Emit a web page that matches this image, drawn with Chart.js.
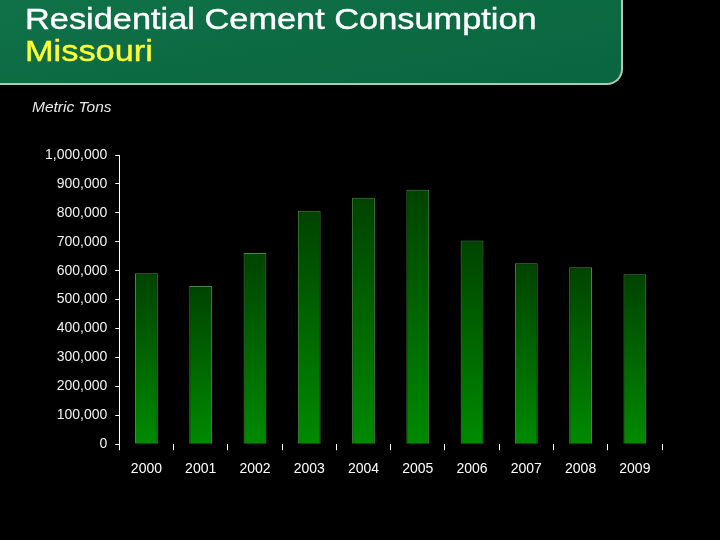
<!DOCTYPE html>
<html>
<head>
<meta charset="utf-8">
<script src="https://cdn.jsdelivr.net/npm/chart.js@4/dist/chart.umd.min.js"></script>
<style>
  html, body { margin: 0; padding: 0; background: #000; }
  #wrap { position: relative; width: 720px; height: 540px; overflow: hidden; }
  #barChart { position: absolute; left: 0; top: 0; }
  .banner {
    position: absolute; left: 0; top: 0; width: 621px; height: 83px;
    background: linear-gradient(170deg, #107149 0%, #0c6a43 55%, #0a6540 100%);
    border-right: 2px solid #a9cbb6; border-bottom: 2px solid #a9cbb6;
    border-bottom-right-radius: 16px;
  }
  .title {
    position: absolute; left: 25px; top: 3px; margin: 0;
    font-family: "Liberation Sans", Arial, sans-serif; font-weight: normal;
    font-size: 30px; line-height: 31.5px; color: #fff;
    transform: scaleX(1.145); transform-origin: left top; white-space: nowrap;
    -webkit-text-stroke: 0.4px currentColor;
  }
  .title span { color: #ffff33; }
  .unit {
    position: absolute; left: 32px; top: 98px;
    font-family: "Liberation Sans", Arial, sans-serif; font-style: italic;
    font-size: 15.5px; color: #e8e8e8;
  }
</style>
</head>
<body>
<div id="wrap">
  <canvas id="barChart" width="720" height="540"></canvas>
  <div class="banner"></div>
  <div class="title">Residential Cement Consumption<br><span>Missouri</span></div>
  <div class="unit">Metric Tons</div>
</div>
<script>
"use strict";

// values
const years = ['2000', '2001', '2002', '2003', '2004', '2005', '2006', '2007', '2008', '2009'];
const tons = [591000, 547000, 661000, 807000, 852000, 880000, 704000, 626000, 612000, 588000];
const yTicks = [0, 100000, 200000, 300000, 400000, 500000, 600000, 700000, 800000, 900000, 1000000];

// dark at the top of each bar, brighter green at its base
function barFill(ctx) {
    const chart = ctx.chart;
    const y = chart.scales && chart.scales.y;
    if (!chart.chartArea || !y || ctx.parsed === undefined) return '#006400';
    const top = y.getPixelForValue(ctx.parsed.y);
    const bottom = y.getPixelForValue(0);
    const g = chart.ctx.createLinearGradient(0, top, 0, bottom);
    g.addColorStop(0, '#004300');
    g.addColorStop(0.55, '#006a00');
    g.addColorStop(1, '#008a00');
    return g;
}

const barCtx = document.getElementById('barChart');
new Chart(barCtx, {
    type: 'bar',
    data: {
        labels: years,
        datasets: [{
            label: 'Metric Tons',
            data: tons,
            backgroundColor: barFill,
            borderColor: 'rgba(90, 170, 90, 0.8)',
            borderWidth: 1,
            barPercentage: 0.42,
            categoryPercentage: 1
        }]
    },
    options: {
        responsive: false,
        animation: false,
        devicePixelRatio: 1,
        layout: {
            padding: { left: 37, right: 58, top: 155, bottom: 51 }
        },
        plugins: {
            legend: { display: false },
            tooltip: { enabled: false }
        },
        scales: {
            x: {
                border: { display: false },
                grid: { drawOnChartArea: false, color: '#ffffff', tickLength: 6 },
                ticks: {
                    color: '#ffffff',
                    padding: 11,
                    font: { family: '"Liberation Sans", Arial, sans-serif', size: 14 }
                }
            },
            y: {
                min: 0,
                max: 1000000,
                afterBuildTicks: (scale) => { scale.ticks = yTicks.map(v => ({ value: v })); },
                border: { display: true, color: '#ffffff', width: 1 },
                grid: { drawOnChartArea: false, color: '#ffffff', tickLength: 4 },
                ticks: {
                    color: '#f2f2f2',
                    padding: 8,
                    font: { family: '"Liberation Sans", Arial, sans-serif', size: 14 },
                    callback: (v) => Number(v).toLocaleString('en-US')
                }
            }
        }
    }
});
</script>
</body>
</html>
